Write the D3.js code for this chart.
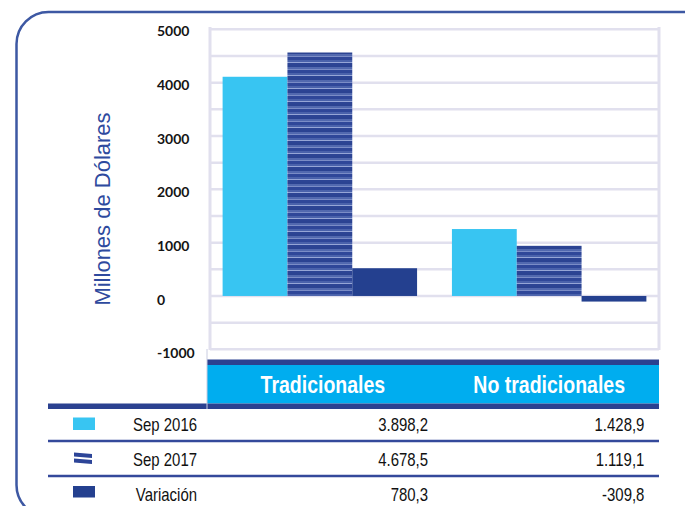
<!DOCTYPE html>
<html>
<head>
<meta charset="utf-8">
<script src="https://cdn.jsdelivr.net/npm/d3@7"></script>
<style>
  html, body { margin: 0; padding: 0; background: #fff; }
  svg { display: block; }
</style>
</head>
<body>
<svg id="chart" width="685" height="506"></svg>
<script>
// ---- data ----
const categories = ["Tradicionales", "No tradicionales"];
const seriesNames = ["Sep 2016", "Sep 2017", "Variación"];
// bar heights as drawn in the picture (millones de dólares)
const sep2016Bars = [4110, 1255];
const sep2017Bars = [4565, 940];
const variacionBars = [520, -105];
// values printed in the table
const sep2016Labels = ["3.898,2", "1.428,9"];
const sep2017Labels = ["4.678,5", "1.119,1"];
const variacionLabels = ["780,3", "-309,8"];
const yTickLabels = [5000, 4000, 3000, 2000, 1000, 0, -1000];
const yAxisTitle = "Millones de Dólares";

const barSeries = [sep2016Bars, sep2017Bars, variacionBars];
const labelSeries = [sep2016Labels, sep2017Labels, variacionLabels];

const svg = d3.select("#chart");
const defs = svg.append("defs");

// striped pattern for Sep 2017
const pat = defs.append("pattern").attr("id", "stripes")
  .attr("patternUnits", "userSpaceOnUse").attr("width", 10).attr("height", 13);
[["#2b4392",0,2],["#5269af",2,2],["#7a8cc6",4,1],["#2f4799",5,3],["#4a62ab",8,2],["#95a5d6",10,1],["#2c4494",11,2]]
  .forEach(([c,y,h]) => pat.append("rect").attr("x",0).attr("y",y).attr("width",10).attr("height",h).attr("fill",c));

const colors = ["#38c5f2", "url(#stripes)", "#24408f"];

// outer rounded frame
svg.append("rect").attr("x", 16.5).attr("y", 12).attr("width", 700).attr("height", 505)
  .attr("rx", 32).attr("fill", "none").attr("stroke", "#3d58a3").attr("stroke-width", 2.5);

// scales
const plotLeft = 210, plotRight = 659;
const y = d3.scaleLinear().domain([-1000, 5000]).range([349.3, 29.3]);
const x0 = d3.scaleBand().domain(categories).range([plotLeft, plotRight])
  .paddingInner(0.152).paddingOuter(0.055);
const x1 = d3.scaleBand().domain(seriesNames).range([0, x0.bandwidth()]).padding(0);

// gridlines
const grid = svg.append("g");
grid.selectAll("line.h").data(d3.range(-1000, 5001, 500)).join("line")
  .attr("x1", plotLeft).attr("x2", plotRight)
  .attr("y1", d => y(d)).attr("y2", d => y(d))
  .attr("stroke", "#e1e0ee").attr("stroke-width", 2.5);
[plotLeft, plotRight].forEach(xx => grid.append("line")
  .attr("x1", xx).attr("x2", xx).attr("y1", 27).attr("y2", 350)
  .attr("stroke", "#e1e0ee").attr("stroke-width", 3));

// y tick labels
svg.append("g").selectAll("text").data(yTickLabels).join("text")
  .attr("x", 157).attr("y", d => y(d) + 5 - (d / 1000) * 0.3)
  .attr("dominant-baseline", "middle")
  .attr("font-family", "Lato, 'Noto Sans', sans-serif").attr("font-size", 14)
  .attr("font-weight", "bold")
  .attr("fill", "#151515").text(d => d);

// y axis title
svg.append("text")
  .attr("transform", "translate(110,209) rotate(-90)")
  .attr("text-anchor", "middle")
  .attr("font-family", "'Liberation Sans', Arial, sans-serif").attr("font-size", 22)
  .attr("fill", "#2e4a9e").text(yAxisTitle);

// bars
const gBars = svg.append("g");
categories.forEach((cat, ci) => {
  seriesNames.forEach((s, si) => {
    const v = barSeries[si][ci];
    gBars.append("rect")
      .attr("x", x0(cat) + x1(s))
      .attr("width", x1.bandwidth())
      .attr("y", y(Math.max(0, v)))
      .attr("height", Math.abs(y(v) - y(0)))
      .attr("fill", colors[si]);
  });
});

// ---- table ----
const tbl = svg.append("g");
const tLeft = 207, tRight = 659;
tbl.append("rect").attr("x", tLeft).attr("y", 359.5).attr("width", tRight - tLeft).attr("height", 5.5).attr("fill", "#2b4190");
tbl.append("rect").attr("x", tLeft).attr("y", 365).attr("width", tRight - tLeft).attr("height", 38.5).attr("fill", "#00adef");
tbl.append("rect").attr("x", 48).attr("y", 403.5).attr("width", tRight - 48).attr("height", 5.5).attr("fill", "#2b4190");
tbl.append("line").attr("x1", tLeft).attr("x2", tLeft).attr("y1", 349).attr("y2", 409)
  .attr("stroke", "#c9cce0").attr("stroke-width", 1);
[441, 476].forEach(yy => tbl.append("line").attr("x1", 48).attr("x2", tRight)
  .attr("y1", yy).attr("y2", yy).attr("stroke", "#34499b").attr("stroke-width", 2.5));

const font = "'Liberation Sans', Arial, sans-serif";
const squeeze = 0.83; // emulate a condensed face
function narrowText(g, x, yy, anchor, size, weight, fill, txt) {
  return g.append("text")
    .attr("transform", `translate(${x},${yy}) scale(${squeeze},1)`)
    .attr("text-anchor", anchor)
    .attr("font-family", font).attr("font-size", size).attr("font-weight", weight)
    .attr("fill", fill).text(txt);
}

// header
categories.forEach((cat, ci) => {
  narrowText(tbl, x0(cat) + x0.bandwidth() / 2 + (ci === 0 ? 3 : 0), 393, "middle", 23.5, "bold", "#fff", cat);
});

const rowBase = [431, 466, 501];
seriesNames.forEach((s, si) => {
  narrowText(tbl, 197, rowBase[si], "end", 18, "normal", "#111", s);
  categories.forEach((cat, ci) => {
    narrowText(tbl, x0(cat) + x0.bandwidth() + (ci === 0 ? 11 : -2), rowBase[si], "end", 18, "normal", "#111", labelSeries[si][ci]);
  });
});

// legend icons
tbl.append("rect").attr("x", 73).attr("y", 417.5).attr("width", 22).attr("height", 12.5).attr("fill", "#38c5f2");
tbl.append("polygon").attr("points", "74,452.5 92,454 92,458 74,456.5").attr("fill", "#2d4598");
tbl.append("polygon").attr("points", "74,458.5 92,460 92,464 74,462.5").attr("fill", "#2d4598");
tbl.append("rect").attr("x", 73).attr("y", 486).attr("width", 22).attr("height", 11.5).attr("fill", "#24408f");
</script>
</body>
</html>
